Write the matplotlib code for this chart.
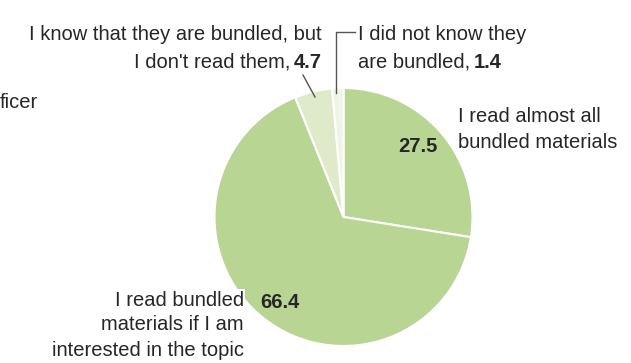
import matplotlib
matplotlib.use("Agg")
import matplotlib.pyplot as plt

values = [27.5, 66.4, 4.7, 1.4]
value_labels = ["27.5", "66.4", "4.7", "1.4"]
colors = ["#b9d593", "#b9d593", "#dfeacb", "#eff5e4"]

W, H = 631, 363
fig = plt.figure(figsize=(W / 100, H / 100), dpi=100)
ax = fig.add_axes([0, 0, 1, 1])

def Y(y):
    return H - y

cx, cy, r = 343.5, 217, 129
ax.pie(values, colors=colors, startangle=90, counterclock=False,
       center=(cx, Y(cy)), radius=r, frame=True,
       wedgeprops=dict(edgecolor="white", linewidth=1.5))
ax.set_xlim(0, W)
ax.set_ylim(0, H)
ax.set_aspect("equal")
ax.axis("off")

font = "Liberation Sans"
fs = 14.5
tc = "#262626"
lc = "#555555"
kw = dict(fontsize=fs, family=font, color=tc, va="center")

# cut-off text at left
ax.text(0, Y(103), "ficer", ha="left", **kw)

# 4.7 label (right aligned, bold value at the end)
ax.text(322, Y(35), "I know that they are bundled, but", ha="right", **kw)
b = ax.text(322, Y(62), value_labels[2], ha="right", weight="bold", **kw)
ax.annotate("I don't read them,", xy=(0, 0.5), xycoords=b, xytext=(-4, 0),
            textcoords="offset pixels", ha="right", **kw)
ax.plot([303, 315], [Y(75), Y(97)], color=lc, lw=1)

# 1.4 label (left aligned, bold value at the end)
ax.plot([336, 336, 355], [Y(93), Y(32), Y(32)], color=lc, lw=1)
ax.text(358, Y(35), "I did not know they", ha="left", **kw)
n = ax.text(358, Y(62), "are bundled,", ha="left", **kw)
ax.annotate(value_labels[3], xy=(1, 0.5), xycoords=n, xytext=(4, 0),
            textcoords="offset pixels", ha="left", weight="bold", **kw)

# 27.5 label
ax.text(458, Y(117), "I read almost all", ha="left", **kw)
ax.text(458, Y(142), "bundled materials", ha="left", **kw)
ax.text(438, Y(147), value_labels[0], ha="right", weight="bold", **kw)

# 66.4 label
ax.text(260, Y(302), value_labels[1], ha="left", weight="bold", **kw)
for i, line in enumerate(["I read bundled", "materials if I am", "interested in the topic"]):
    ax.text(244, Y(300 + 25 * i), line, ha="right",
            bbox=dict(facecolor="white", edgecolor="none", pad=1), **kw)

fig.savefig("out.png", dpi=100)
